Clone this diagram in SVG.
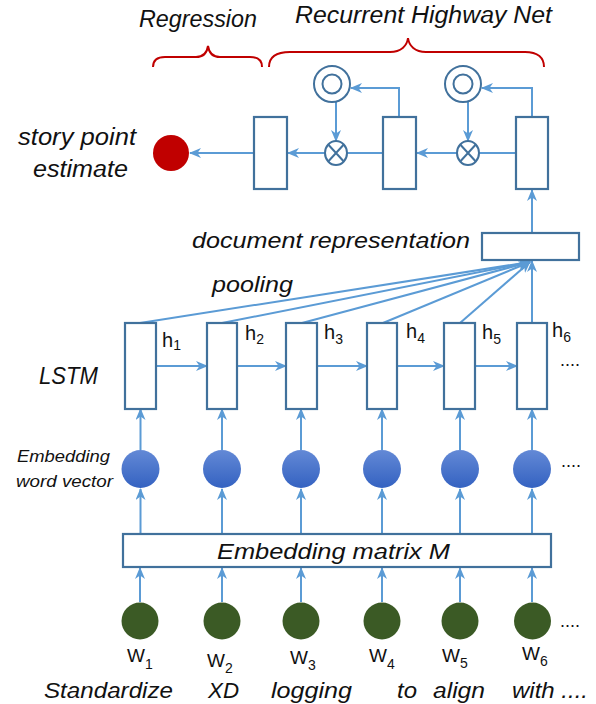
<svg xmlns="http://www.w3.org/2000/svg" width="596" height="704" viewBox="0 0 596 704">
<style>
.box{fill:#fff;stroke:#41719C;stroke-width:2.2}
.ln{fill:none;stroke:#5B9BD5;stroke-width:2}
.ar{marker-end:url(#arr)}
.gate{fill:#fff;stroke:#41719C;stroke-width:2}
.brace{fill:none;stroke:#C00000;stroke-width:2}
.it{font-family:"Liberation Sans",Arial,sans-serif;font-style:italic;fill:#111}
.rg{font-family:"Liberation Sans",Arial,sans-serif;fill:#111}
.emb{fill:url(#bg)}
.wd{fill:#3B5A25}
</style>
<defs>
<marker id="arr" markerUnits="userSpaceOnUse" viewBox="0 0 12 10" refX="11" refY="5" markerWidth="12" markerHeight="10" orient="auto">
<path d="M0,0 L12,5 L0,10 L3.5,5 z" fill="#5B9BD5"/>
</marker>
<linearGradient id="bg" x1="0" y1="0" x2="0" y2="1">
<stop offset="0" stop-color="#6389D6"/>
<stop offset="1" stop-color="#3462C1"/>
</linearGradient>
</defs>

<g id="labels">
<text class="it" x="139" y="27" font-size="23.5" textLength="118" lengthAdjust="spacingAndGlyphs">Regression</text>
<text class="it" x="295" y="23" font-size="23.5" textLength="257" lengthAdjust="spacingAndGlyphs">Recurrent Highway Net</text>
<text class="it" x="18" y="145" font-size="23.5" textLength="118" lengthAdjust="spacingAndGlyphs">story point</text>
<text class="it" x="33" y="177" font-size="23.5" textLength="95" lengthAdjust="spacingAndGlyphs">estimate</text>
<text class="it" x="192" y="248" font-size="22.5" textLength="278" lengthAdjust="spacingAndGlyphs">document representation</text>
<text class="it" x="212" y="292" font-size="22.5" textLength="81" lengthAdjust="spacingAndGlyphs">pooling</text>
<text class="it" x="39" y="384" font-size="23.5" textLength="59" lengthAdjust="spacingAndGlyphs">LSTM</text>
<text class="it" x="17" y="462" font-size="16.5" textLength="93" lengthAdjust="spacingAndGlyphs">Embedding</text>
<text class="it" x="16" y="487" font-size="16.5" textLength="97" lengthAdjust="spacingAndGlyphs">word vector</text>
<text class="rg" x="560" y="366" font-size="18">....</text>
<text class="rg" x="561" y="467" font-size="18">....</text>
<text class="rg" x="560" y="627" font-size="18">....</text>
</g>

<g id="braces">
<path class="brace" d="M153,67 C153,60 157,57 165,57 L196,57 C203,57 207,53 208,46 C209,53 213,57 220,57 L250,57 C258,57 262,60 262,67"/>
<path class="brace" d="M269,67 C269,58 275,52 290,52 L390,52 C401,52 407,46 408,38 C409,46 415,52 426,52 L525,52 C538,52 544,58 544,67"/>
</g>

<g id="connectors">
<line class="ln ar" x1="254" y1="153" x2="190" y2="153"/>
<line class="ln ar" x1="325" y1="153" x2="288" y2="153"/>
<line class="ln" x1="383" y1="153" x2="347" y2="153"/>
<line class="ln ar" x1="457" y1="153" x2="417" y2="153"/>
<line class="ln" x1="516" y1="153" x2="479" y2="153"/>
<polyline class="ln ar" points="399,117 399,88 351,88"/>
<polyline class="ln ar" points="532,117 532,88 482,88"/>
<line class="ln ar" x1="336" y1="102" x2="336" y2="141"/>
<line class="ln ar" x1="468" y1="102" x2="468" y2="141"/>
<line class="ln ar" x1="532" y1="233" x2="532" y2="190"/>
<line class="ln ar" x1="140" y1="323" x2="530" y2="262"/>
<line class="ln ar" x1="222" y1="323" x2="530" y2="262"/>
<line class="ln ar" x1="302" y1="323" x2="530" y2="262"/>
<line class="ln ar" x1="383" y1="323" x2="530" y2="262"/>
<line class="ln ar" x1="460" y1="323" x2="530" y2="262"/>
<line class="ln ar" x1="532" y1="323" x2="532" y2="261"/>
<line class="ln ar" x1="156" y1="366" x2="207" y2="366"/>
<line class="ln ar" x1="237" y1="366" x2="286" y2="366"/>
<line class="ln ar" x1="317" y1="366" x2="367" y2="366"/>
<line class="ln ar" x1="397" y1="366" x2="444" y2="366"/>
<line class="ln ar" x1="475" y1="366" x2="517" y2="366"/>
<line class="ln ar" x1="140.5" y1="450" x2="140.5" y2="409"/>
<line class="ln ar" x1="222" y1="450" x2="222" y2="409"/>
<line class="ln ar" x1="301" y1="450" x2="301" y2="409"/>
<line class="ln ar" x1="382" y1="450" x2="382" y2="409"/>
<line class="ln ar" x1="460" y1="450" x2="460" y2="409"/>
<line class="ln ar" x1="532" y1="450" x2="532" y2="409"/>
<line class="ln ar" x1="140.5" y1="534" x2="140.5" y2="489"/>
<line class="ln ar" x1="222" y1="534" x2="222" y2="489"/>
<line class="ln ar" x1="301" y1="534" x2="301" y2="489"/>
<line class="ln ar" x1="382" y1="534" x2="382" y2="489"/>
<line class="ln ar" x1="460" y1="534" x2="460" y2="489"/>
<line class="ln ar" x1="532" y1="534" x2="532" y2="489"/>
<line class="ln ar" x1="140" y1="602" x2="140" y2="568"/>
<line class="ln ar" x1="222" y1="602" x2="222" y2="568"/>
<line class="ln ar" x1="301" y1="602" x2="301" y2="568"/>
<line class="ln ar" x1="382" y1="602" x2="382" y2="568"/>
<line class="ln ar" x1="460" y1="602" x2="460" y2="568"/>
<line class="ln ar" x1="532" y1="602" x2="532" y2="568"/>
</g>

<g id="estimate"><circle cx="171" cy="153" r="18" fill="#C00000"/></g>
<g id="reg-unit"><rect class="box" x="254" y="117" width="33" height="72"/></g>
<g id="rhn-unit-1"><rect class="box" x="383" y="117" width="33" height="72"/></g>
<g id="rhn-unit-2"><rect class="box" x="516" y="117" width="32" height="72"/></g>
<g id="gate-1"><circle class="gate" cx="332" cy="84" r="18"/><circle class="gate" cx="332" cy="84" r="9.5"/></g>
<g id="gate-2"><circle class="gate" cx="463" cy="84" r="18"/><circle class="gate" cx="463" cy="84" r="9.5"/></g>
<g id="mult-1"><ellipse class="gate" cx="336" cy="153" rx="11" ry="12"/><path class="gate" d="M328.2,144.5 L343.8,161.5 M343.8,144.5 L328.2,161.5"/></g>
<g id="mult-2"><ellipse class="gate" cx="468" cy="153" rx="11" ry="12"/><path class="gate" d="M460.2,144.5 L475.8,161.5 M475.8,144.5 L460.2,161.5"/></g>
<g id="doc-rep"><rect class="box" x="482" y="233" width="97" height="27"/></g>

<g id="lstm-1"><rect class="box" x="125" y="323" width="31" height="86"/><text class="rg" x="162" y="347" font-size="20">h<tspan font-size="14" dy="3">1</tspan></text></g>
<g id="lstm-2"><rect class="box" x="207" y="323" width="30" height="86"/><text class="rg" x="245" y="340" font-size="20">h<tspan font-size="14" dy="4">2</tspan></text></g>
<g id="lstm-3"><rect class="box" x="286" y="323" width="31" height="86"/><text class="rg" x="324" y="339" font-size="20">h<tspan font-size="14" dy="5">3</tspan></text></g>
<g id="lstm-4"><rect class="box" x="367" y="323" width="30" height="86"/><text class="rg" x="406" y="338" font-size="20">h<tspan font-size="14" dy="5">4</tspan></text></g>
<g id="lstm-5"><rect class="box" x="444" y="323" width="31" height="86"/><text class="rg" x="482" y="339" font-size="20">h<tspan font-size="14" dy="5">5</tspan></text></g>
<g id="lstm-6"><rect class="box" x="517" y="323" width="30" height="86"/><text class="rg" x="552" y="337" font-size="20">h<tspan font-size="14" dy="5">6</tspan></text></g>

<g id="emb-1"><circle class="emb" cx="140.5" cy="469" r="19"/></g>
<g id="emb-2"><circle class="emb" cx="222" cy="469" r="19"/></g>
<g id="emb-3"><circle class="emb" cx="301" cy="469" r="19"/></g>
<g id="emb-4"><circle class="emb" cx="382" cy="469" r="19"/></g>
<g id="emb-5"><circle class="emb" cx="460" cy="469" r="19"/></g>
<g id="emb-6"><circle class="emb" cx="532" cy="469" r="19"/></g>

<g id="emb-matrix"><rect class="box" x="123" y="534" width="428" height="33"/><text class="it" x="217" y="559" font-size="22.5" textLength="233" lengthAdjust="spacingAndGlyphs">Embedding matrix M</text></g>

<g id="word-1"><circle class="wd" cx="140" cy="621" r="18.5"/><text class="rg" x="127" y="662" font-size="19">W<tspan font-size="14" dy="7">1</tspan></text><text class="it" x="44" y="698" font-size="22.5" textLength="129" lengthAdjust="spacingAndGlyphs">Standardize</text></g>
<g id="word-2"><circle class="wd" cx="222" cy="621" r="18.5"/><text class="rg" x="207" y="667" font-size="19">W<tspan font-size="14" dy="6">2</tspan></text><text class="it" x="208" y="698" font-size="22.5" textLength="31" lengthAdjust="spacingAndGlyphs">XD</text></g>
<g id="word-3"><circle class="wd" cx="301" cy="621" r="18.5"/><text class="rg" x="290" y="664" font-size="19">W<tspan font-size="14" dy="6">3</tspan></text><text class="it" x="271" y="698" font-size="22.5" textLength="81" lengthAdjust="spacingAndGlyphs">logging</text></g>
<g id="word-4"><circle class="wd" cx="382" cy="621" r="18.5"/><text class="rg" x="369" y="662" font-size="19">W<tspan font-size="14" dy="7">4</tspan></text><text class="it" x="397" y="698" font-size="22.5" textLength="20" lengthAdjust="spacingAndGlyphs">to</text></g>
<g id="word-5"><circle class="wd" cx="460" cy="621" r="18.5"/><text class="rg" x="442" y="662" font-size="19">W<tspan font-size="14" dy="6">5</tspan></text><text class="it" x="433" y="698" font-size="22.5" textLength="52" lengthAdjust="spacingAndGlyphs">align</text></g>
<g id="word-6"><circle class="wd" cx="532.5" cy="621" r="18.5"/><text class="rg" x="522" y="660" font-size="19">W<tspan font-size="14" dy="6">6</tspan></text><text class="it" x="512" y="698" font-size="22.5" textLength="76" lengthAdjust="spacingAndGlyphs">with ....</text></g>
</svg>
